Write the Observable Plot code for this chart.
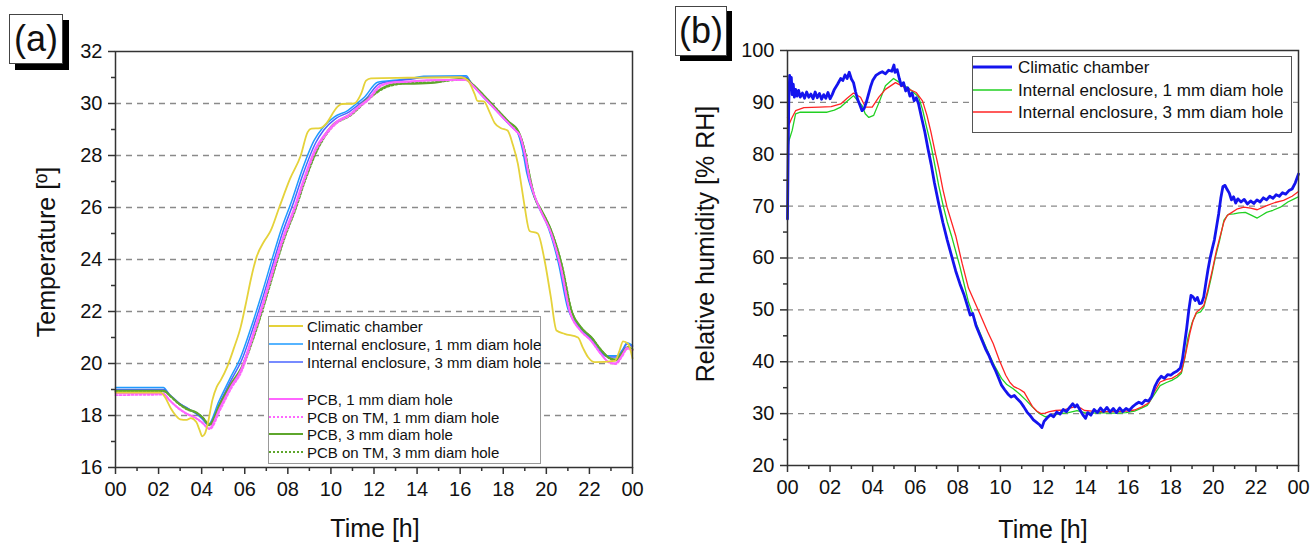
<!DOCTYPE html>
<html><head><meta charset="utf-8">
<script src="https://cdn.jsdelivr.net/npm/d3@7"></script>
<script src="https://cdn.jsdelivr.net/npm/@observablehq/plot@0.6"></script>
<style>
body{margin:0;background:#fff;font-family:"Liberation Sans",Arial,sans-serif;color:#111;}
#wrap{position:relative;width:1312px;height:543px;overflow:hidden;background:#fff;}
.panel{position:absolute;top:0;}
.tag{position:absolute;border:1px solid #444;background:#fff;font-size:36px;line-height:48px;text-align:center;box-sizing:border-box;}
.title{position:absolute;font-size:25px;line-height:1;white-space:nowrap;}
.legend{position:absolute;background:#fff;box-sizing:border-box;}
.row{position:absolute;white-space:nowrap;}
</style></head>
<body><div id="wrap"></div>
<script>
// ---------- Panel (a): temperature (hours, °C) ----------
const hourTicks = [0,2,4,6,8,10,12,14,16,18,20,22,24];
const hourMinor = [1,3,5,7,9,11,13,15,17,19,21,23];
const tempTicks = [16,18,20,22,24,26,28,30,32];
const tempMinor = [17,19,21,23,25,27,29,31];
const tempGrid = [18,20,22,24,26,28,30];

const chamberT = [[0,18.88],[2.1,18.88],[2.3,18.7],[2.55,18.3],[2.8,18.0],[3.0,17.85],[3.3,17.83],[3.5,17.9],[3.75,17.75],[3.9,17.45],[4.03,17.2],[4.15,17.3],[4.3,17.75],[4.5,18.6],[4.7,19.1],[4.88,19.35],[5.2,19.9],[5.5,20.6],[5.81,21.4],[6.05,22.3],[6.3,23.3],[6.55,24.1],[6.9,24.7],[7.2,25.1],[7.6,26.0],[8.1,27.1],[8.6,28.0],[8.92,28.9],[9.1,29.03],[9.5,29.05],[9.77,29.22],[10.3,29.87],[10.5,29.98],[11.08,30.0],[11.4,30.37],[11.63,30.88],[11.86,30.97],[13.57,30.99],[16.05,31.01],[16.36,30.88],[16.67,30.37],[16.8,30.1],[17.1,30.08],[17.35,29.7],[17.6,29.25],[17.9,29.05],[18.2,28.96],[18.45,28.4],[18.68,27.68],[18.85,26.8],[19.0,26.0],[19.22,25.1],[19.6,25.0],[19.92,23.96],[20.2,22.6],[20.47,21.27],[20.85,21.14],[21.47,21.0],[21.7,20.6],[21.94,20.24],[22.25,20.05],[23.18,20.1],[23.4,20.5],[23.56,20.85],[23.8,20.75],[24,20.2]];
const enc1T = [[0,19.08],[2.22,19.08],[2.5,18.8],[2.9,18.5],[3.3,18.3],[3.7,18.1],[4.0,17.9],[4.3,17.65],[4.8,18.55],[5.3,19.4],[5.81,20.24],[6.3,21.4],[6.8,22.7],[7.3,24.1],[7.67,25.1],[8.2,26.3],[8.6,27.3],[9.22,28.58],[9.6,29.05],[10.15,29.48],[10.78,29.73],[11.2,30.0],[11.55,30.24],[12.17,30.82],[12.8,30.88],[13.6,30.95],[14.3,31.05],[16.28,31.07],[16.5,30.8],[16.9,30.4],[17.3,30.05],[17.7,29.7],[18.1,29.35],[18.45,29.05],[18.65,28.9],[18.9,28.2],[19.1,27.3],[19.35,26.6],[19.65,26.0],[20.1,25.2],[20.55,23.9],[21.0,22.1],[21.45,21.45],[21.95,21.05],[22.4,20.55],[22.8,20.3],[23.3,20.3],[23.55,20.55],[23.75,20.8],[24,20.7]];
const enc3T = [[0,19.0],[2.25,19.0],[2.55,18.78],[2.95,18.48],[3.35,18.27],[3.75,18.07],[4.05,17.86],[4.33,17.62],[4.85,18.5],[5.35,19.33],[5.88,20.17],[6.37,21.33],[6.87,22.62],[7.37,24.0],[7.74,25.0],[8.27,26.2],[8.67,27.2],[9.3,28.5],[9.67,28.98],[10.22,29.42],[10.85,29.68],[11.27,29.95],[11.62,30.18],[12.25,30.76],[12.87,30.85],[13.6,30.92],[14.3,31.0],[16.25,31.02],[16.52,30.78],[16.95,30.38],[17.35,30.03],[17.75,29.68],[18.15,29.32],[18.5,29.02],[18.7,28.85],[18.95,28.15],[19.15,27.25],[19.4,26.55],[19.7,25.95],[20.15,25.15],[20.6,23.85],[21.05,22.05],[21.5,21.42],[22.0,21.02],[22.45,20.5],[22.85,20.25],[23.3,20.25],[23.55,20.5],[23.75,20.75],[24,20.65]];
const pcb1T = [[0,18.85],[2.22,18.85],[2.5,18.6],[2.9,18.3],[3.3,18.08],[3.7,17.92],[4.0,17.75],[4.35,17.5],[4.85,18.3],[5.35,19.1],[5.81,19.73],[6.35,21.05],[6.85,22.35],[7.35,23.75],[7.75,24.8],[8.3,26.0],[8.7,27.0],[9.3,28.3],[9.7,28.8],[10.25,29.3],[10.9,29.6],[11.3,29.9],[11.7,30.15],[12.3,30.7],[12.9,30.82],[13.6,30.85],[14.5,30.9],[16.25,30.92],[16.55,30.72],[17.0,30.32],[17.4,29.98],[17.8,29.62],[18.2,29.28],[18.55,28.98],[18.75,28.8],[19.0,28.05],[19.2,27.15],[19.45,26.45],[19.75,25.85],[20.2,25.05],[20.65,23.75],[21.1,21.95],[21.55,21.3],[22.05,20.9],[22.5,20.4],[22.9,20.05],[23.2,20.0],[23.5,20.3],[23.75,20.6],[24,20.5]];
const pcbTm1T = [[0,18.78],[2.22,18.8],[2.52,18.57],[2.92,18.27],[3.32,18.05],[3.72,17.9],[4.02,17.72],[4.38,17.48],[4.88,18.25],[5.38,19.05],[5.85,19.68],[6.38,21.0],[6.88,22.3],[7.38,23.7],[7.78,24.75],[8.33,25.95],[8.73,26.95],[9.33,28.25],[9.73,28.75],[10.28,29.25],[10.93,29.57],[11.33,29.87],[11.73,30.12],[12.33,30.67],[12.93,30.8],[13.6,30.83],[14.5,30.88],[16.25,30.9],[16.57,30.7],[17.02,30.3],[17.42,29.96],[17.82,29.6],[18.22,29.25],[18.57,28.95],[18.78,28.75],[19.03,28.0],[19.23,27.1],[19.48,26.4],[19.78,25.8],[20.23,25.0],[20.68,23.7],[21.13,21.9],[21.58,21.27],[22.08,20.87],[22.53,20.37],[22.93,20.03],[23.22,19.98],[23.52,20.27],[23.77,20.57],[24,20.47]];
const pcb3T = [[0,18.95],[2.25,18.95],[2.55,18.75],[2.95,18.45],[3.33,18.25],[3.75,18.12],[4.05,17.92],[4.35,17.65],[4.85,18.45],[5.35,19.2],[5.85,19.85],[6.4,21.05],[6.9,22.35],[7.4,23.75],[7.8,24.8],[8.35,26.0],[8.75,27.0],[9.35,28.25],[10.0,29.1],[10.93,29.6],[11.7,30.18],[12.48,30.63],[12.95,30.75],[13.7,30.76],[14.8,30.8],[15.5,30.9],[16.25,30.95],[16.6,30.72],[17.05,30.35],[17.45,30.0],[17.85,29.65],[18.25,29.3],[18.68,28.96],[18.99,28.19],[19.2,27.3],[19.46,26.4],[19.77,25.9],[20.23,25.1],[20.7,23.83],[21.16,22.04],[21.6,21.4],[22.1,21.0],[22.56,20.5],[23.0,20.18],[23.25,20.15],[23.5,20.4],[23.8,20.63],[24,20.55]];
const pcbTm3T = [[0,18.92],[2.25,18.92],[2.57,18.72],[2.97,18.42],[3.35,18.22],[3.77,18.1],[4.07,17.9],[4.37,17.62],[4.88,18.42],[5.38,19.17],[5.88,19.82],[6.43,21.02],[6.93,22.32],[7.43,23.72],[7.83,24.77],[8.38,25.97],[8.78,26.97],[9.38,28.22],[10.03,29.07],[10.96,29.57],[11.73,30.15],[12.5,30.6],[12.98,30.72],[13.7,30.8],[14.8,30.82],[15.5,30.88],[16.25,30.92],[16.62,30.7],[17.07,30.33],[17.47,29.98],[17.87,29.63],[18.27,29.28],[18.7,28.93],[19.01,28.15],[19.22,27.25],[19.48,26.35],[19.8,25.85],[20.26,25.05],[20.73,23.78],[21.19,22.0],[21.63,21.37],[22.13,20.97],[22.6,20.47],[23.03,20.15],[23.28,20.12],[23.52,20.37],[23.82,20.6],[24,20.52]];

const seriesA = [
  {name:"Climatic chamber", data:chamberT, color:"#e5d23a", width:1.8, dash:null},
  {name:"Internal enclosure, 1 mm diam hole", data:enc1T, color:"#1e9bff", width:1.5, dash:null},
  {name:"Internal enclosure, 3 mm diam hole", data:enc3T, color:"#4a64ff", width:1.5, dash:null},
  {name:"PCB, 1 mm diam hole", data:pcb1T, color:"#ff66ff", width:1.8, dash:null},
  {name:"PCB on TM, 1 mm diam hole", data:pcbTm1T, color:"#ff66ff", width:1.8, dash:"2,2"},
  {name:"PCB, 3 mm diam hole", data:pcb3T, color:"#5ea62c", width:2, dash:null},
  {name:"PCB on TM, 3 mm diam hole", data:pcbTm3T, color:"#5ea62c", width:1.8, dash:"2,2"}
];
const drawOrderA = [1,2,5,6,3,4,0];

// ---------- Panel (b): relative humidity ----------
const rhTicks = [20,30,40,50,60,70,80,90,100];
const rhMinor = [25,35,45,55,65,75,85,95];
const rhGrid = [30,40,50,60,70,80,90];

const chamberRH = [[0,67.5],[0.03,80],[0.06,90],[0.1,95.2],[0.14,93],[0.18,94.8],[0.22,91.5],[0.27,93.5],[0.32,91],[0.38,92.5],[0.45,91.2],[0.52,92.3],[0.6,91],[0.7,91.8],[0.8,90.8],[0.9,92],[1.0,91],[1.1,91.6],[1.2,90.7],[1.3,92],[1.4,90.9],[1.5,91.7],[1.6,90.6],[1.7,91.5],[1.8,90.8],[1.9,91.9],[2.0,90.7],[2.1,91.5],[2.2,92.5],[2.35,93.5],[2.5,94.6],[2.6,94.2],[2.7,95.3],[2.8,94.6],[2.9,95.8],[3.0,94.5],[3.1,93.8],[3.2,92],[3.3,90.5],[3.4,89.5],[3.5,88.4],[3.6,88.8],[3.7,90],[3.8,91.5],[3.9,93],[4.0,94.2],[4.15,95.2],[4.3,95.6],[4.45,95.9],[4.6,95.5],[4.75,96.2],[4.9,96],[5.0,97.2],[5.05,95.8],[5.15,96.3],[5.25,94.6],[5.35,93.2],[5.45,93.8],[5.55,92.2],[5.65,92.8],[5.75,91.2],[5.85,91.8],[5.95,90.3],[6.05,90.9],[6.15,89.8],[6.3,87],[6.45,84.3],[6.6,81],[6.75,78],[6.9,74.5],[7.1,70.5],[7.3,66.8],[7.5,63.5],[7.7,60.5],[7.9,57.5],[8.1,55],[8.3,52.8],[8.45,50.8],[8.58,49],[8.7,49.3],[8.85,47],[9.0,45.5],[9.15,44],[9.3,42.5],[9.45,41.3],[9.6,39.8],[9.75,38.5],[9.9,37],[10.05,35.5],[10.2,34.6],[10.35,33.8],[10.5,33.2],[10.65,33.5],[10.8,32.8],[10.95,32.2],[11.1,31.3],[11.25,30.3],[11.4,29.6],[11.55,28.8],[11.7,28.3],[11.85,27.8],[11.95,27.3],[12.05,28.5],[12.2,29.2],[12.35,29.8],[12.5,29.4],[12.65,30.3],[12.8,29.9],[12.95,30.8],[13.1,30.4],[13.25,31.2],[13.4,31.9],[13.5,31.3],[13.6,31.7],[13.75,30.6],[13.9,29.6],[14.0,29.1],[14.1,30.2],[14.25,29.7],[14.4,30.8],[14.55,30.2],[14.7,31.1],[14.85,30.4],[15.0,31.2],[15.15,30.3],[15.3,31.0],[15.45,30.2],[15.6,31.1],[15.75,30.4],[15.9,31.0],[16.05,30.6],[16.2,31.3],[16.35,31.8],[16.5,32.2],[16.65,31.9],[16.8,32.6],[16.95,32.4],[17.1,33.3],[17.25,35.2],[17.4,36.4],[17.55,37.2],[17.7,36.8],[17.85,37.5],[18.0,37.4],[18.15,37.9],[18.3,38.2],[18.45,38.8],[18.55,40.5],[18.65,43.5],[18.75,46.5],[18.85,50],[18.95,52.8],[19.05,52.5],[19.15,51.8],[19.25,52.4],[19.35,51.2],[19.45,51.3],[19.55,52.5],[19.65,55.2],[19.75,57.8],[19.85,60],[19.95,61.8],[20.05,63.5],[20.15,66],[20.25,68.5],[20.35,71.5],[20.45,73.8],[20.55,74],[20.65,73.2],[20.75,72.5],[20.85,71.2],[20.95,71.8],[21.05,70.6],[21.15,71.4],[21.3,70.8],[21.45,71.3],[21.6,70.4],[21.75,71],[21.9,70.5],[22.05,71.2],[22.2,70.8],[22.35,71.6],[22.5,71.2],[22.65,71.9],[22.8,71.5],[22.95,72.2],[23.1,71.9],[23.25,72.6],[23.4,72.3],[23.55,73],[23.7,73.3],[23.85,74.5],[24,76.2]];
const enc1RH = [[0,80],[0.06,82.5],[0.22,84.6],[0.38,87.8],[0.6,88.1],[1.24,88.1],[1.86,88.1],[2.2,88.5],[2.5,89.1],[2.8,90.2],[3.1,91.3],[3.3,90.3],[3.5,89.4],[3.65,87.8],[3.82,87.1],[4.05,87.5],[4.3,90],[4.6,93.2],[4.98,94.6],[5.27,93.8],[5.76,92.5],[6.15,91.1],[6.35,88.5],[6.54,85.1],[6.75,81.5],[6.93,77.7],[7.1,74],[7.3,70.3],[7.5,67],[7.7,64.3],[8.1,58.3],[8.5,51.5],[8.88,47.2],[9.2,44],[9.46,41.5],[9.75,39],[10.05,36.8],[10.3,35.6],[10.6,34.8],[10.9,33.8],[11.2,32.6],[11.5,31.3],[11.8,30.1],[12.1,29.4],[12.4,29.6],[12.8,30],[13.2,30.2],[13.6,30.6],[13.95,30.2],[14.3,30.1],[14.7,30.2],[15.1,30.1],[15.5,30.1],[15.9,30.2],[16.3,30.5],[16.6,31],[16.9,31.6],[17.2,33.5],[17.5,35.4],[17.8,36],[18.05,36.4],[18.3,37],[18.5,37.8],[18.65,40.5],[18.8,44.5],[19.0,47.5],[19.2,49.3],[19.4,49.6],[19.55,50.5],[19.75,53.5],[19.9,56.2],[20.1,60.2],[20.3,63.5],[20.5,67.3],[20.7,68.4],[20.96,68.5],[21.2,68.7],[21.5,68.8],[21.75,68.3],[22.06,67.7],[22.3,68.3],[22.5,68.8],[22.8,69.2],[23.15,69.8],[23.5,70.8],[23.8,71.4],[24,71.8]];
const enc3RH = [[0,87.1],[0.08,85.8],[0.18,86.8],[0.38,88.4],[0.77,89.0],[1.5,89.1],[2.05,89.2],[2.5,89.7],[2.8,90.8],[3.1,91.8],[3.43,91.0],[3.66,89.1],[3.98,89.1],[4.29,91.0],[4.6,92.5],[5.07,93.8],[5.56,92.8],[6.05,91.9],[6.34,90.3],[6.55,87.5],[6.73,84.4],[6.93,80.5],[7.12,77.0],[7.3,73.2],[7.5,69.7],[7.9,64.3],[8.2,59],[8.5,54.2],[8.8,51.4],[9.07,48.9],[9.4,45.8],[9.66,43.5],[9.95,40.3],[10.25,37.4],[10.45,36.0],[10.63,35.2],[10.9,34.7],[11.12,34.1],[11.3,32.8],[11.5,31.4],[11.7,30.5],[11.9,30.0],[12.1,30.1],[12.3,30.4],[12.6,30.6],[12.98,30.7],[13.3,31.1],[13.56,31.4],[13.8,31.0],[13.95,30.6],[14.3,30.5],[14.7,30.4],[15.1,30.4],[15.5,30.4],[15.9,30.5],[16.3,30.7],[16.65,31.3],[16.98,32.1],[17.2,34],[17.5,36.1],[17.8,36.6],[18.05,36.8],[18.3,37.4],[18.5,38.1],[18.7,41.5],[18.9,45.5],[19.05,48],[19.2,49.5],[19.4,50.2],[19.56,50.9],[19.75,54],[19.95,57.6],[20.15,61.5],[20.34,64.5],[20.5,67],[20.65,68.2],[20.8,68.6],[21.1,69.4],[21.43,69.8],[21.75,69.6],[22.06,69.3],[22.45,70.0],[22.9,70.7],[23.3,71.1],[23.7,71.9],[24,72.8]];

const seriesB = [
  {name:"Climatic chamber", data:chamberRH, color:"#1414ee", width:2.8},
  {name:"Internal enclosure, 1 mm diam hole", data:enc1RH, color:"#22d022", width:1.3},
  {name:"Internal enclosure, 3 mm diam hole", data:enc3RH, color:"#ff2424", width:1.3}
];

const hourFmt = d => String(d % 24).padStart(2, "0");
const axisStyle = {fontFamily:"'Liberation Sans', Arial, sans-serif", fontSize:"20px", color:"#111", background:"#fff", overflow:"visible"};

function lineMark(s, curve) {
  return Plot.line(s.data, {x:d=>d[0], y:d=>d[1], stroke:s.color, strokeWidth:s.width,
    strokeDasharray:s.dash || undefined, curve:curve});
}

const plotA = Plot.plot({
  width:660, height:543, marginLeft:115, marginRight:28, marginTop:51, marginBottom:76,
  style:axisStyle,
  x:{domain:[0,24]}, y:{domain:[16,32]},
  marks:[
    Plot.ruleY(tempGrid, {stroke:"#8a8a8a", strokeWidth:1.3, strokeDasharray:"6,5"}),
    ...drawOrderA.map(i => lineMark(seriesA[i], "monotone-x")),
    Plot.frame({stroke:"#333", strokeWidth:1.5}),
    Plot.axisX(hourTicks, {tickSize:7, tickPadding:7, tickFormat:hourFmt, label:null, stroke:"#333", strokeWidth:1.5}),
    Plot.axisX(hourMinor, {tickSize:4, tickFormat:()=>"", label:null, stroke:"#333", strokeWidth:1.5}),
    Plot.axisY(tempTicks, {tickSize:7, tickPadding:6, label:null, stroke:"#333", strokeWidth:1.5}),
    Plot.axisY(tempMinor, {tickSize:4, tickFormat:()=>"", label:null, stroke:"#333", strokeWidth:1.5})
  ]
});

const plotB = Plot.plot({
  width:652, height:543, marginLeft:127, marginRight:14, marginTop:50, marginBottom:78,
  style:axisStyle,
  x:{domain:[0,24]}, y:{domain:[20,100]},
  marks:[
    Plot.ruleY(rhGrid, {stroke:"#8a8a8a", strokeWidth:1.3, strokeDasharray:"6,5"}),
    ...[1,2,0].map(i => lineMark(seriesB[i], "linear")),
    Plot.frame({stroke:"#333", strokeWidth:1.5}),
    Plot.axisX(hourTicks, {tickSize:7, tickPadding:7, tickFormat:hourFmt, label:null, stroke:"#333", strokeWidth:1.5}),
    Plot.axisX(hourMinor, {tickSize:4, tickFormat:()=>"", label:null, stroke:"#333", strokeWidth:1.5}),
    Plot.axisY(rhTicks, {tickSize:7, tickPadding:6, label:null, stroke:"#333", strokeWidth:1.5}),
    Plot.axisY(rhMinor, {tickSize:4, tickFormat:()=>"", label:null, stroke:"#333", strokeWidth:1.5})
  ]
});

const wrap = document.getElementById("wrap");
function place(node, left) {
  const d = document.createElement("div");
  d.className = "panel"; d.style.left = left + "px";
  d.appendChild(node); wrap.appendChild(d);
}
place(plotA, 0);
place(plotB, 660);

function addDiv(cls, css, text) {
  const d = document.createElement("div");
  d.className = cls; d.style.cssText = css;
  if (text != null) d.textContent = text;
  wrap.appendChild(d); return d;
}
// panel tags
addDiv("tag", "left:9px;top:14px;width:54px;height:50px;box-shadow:6px 6px 0 #000;", "(a)");
addDiv("tag", "left:675px;top:6px;width:52px;height:50px;box-shadow:5px 5px 0 #000;", "(b)");
// axis titles
addDiv("title", "left:46px;top:252px;transform:translate(-50%,-50%) rotate(-90deg);", "Temperature [º]");
addDiv("title", "left:375px;top:528px;transform:translate(-50%,-50%);", "Time [h]");
addDiv("title", "left:705px;top:244px;transform:translate(-50%,-50%) rotate(-90deg);", "Relative humidity [% RH]");
addDiv("title", "left:1043px;top:529px;transform:translate(-50%,-50%);", "Time [h]");

// legends
function legend(box, rows, opts) {
  addDiv("legend", `left:${box[0]}px;top:${box[1]}px;width:${box[2]}px;height:${box[3]}px;border:1px solid ${opts.border};`);
  rows.forEach(r => {
    const s = r.s;
    const svgNS = "http://www.w3.org/2000/svg";
    const svg = document.createElementNS(svgNS, "svg");
    svg.setAttribute("width", opts.lineW); svg.setAttribute("height", 8);
    svg.style.cssText = `position:absolute;left:${opts.lineX}px;top:${r.y-4}px;overflow:visible;`;
    const ln = document.createElementNS(svgNS, "line");
    ln.setAttribute("x1", 0); ln.setAttribute("x2", opts.lineW);
    ln.setAttribute("y1", 4); ln.setAttribute("y2", 4);
    ln.setAttribute("stroke", s.color);
    ln.setAttribute("stroke-width", opts.lw ? opts.lw(s) : s.width);
    if (s.dash) ln.setAttribute("stroke-dasharray", s.dash);
    svg.appendChild(ln); wrap.appendChild(svg);
    addDiv("row", `left:${opts.textX}px;top:${r.y}px;font-size:${opts.fs}px;transform:translateY(-50%);line-height:1;`, s.name);
  });
}
legend([268,316,273,148], [
  {s:seriesA[0], y:326},{s:seriesA[1], y:344},{s:seriesA[2], y:362},
  {s:seriesA[3], y:399},{s:seriesA[4], y:417},{s:seriesA[5], y:434},{s:seriesA[6], y:452}
], {border:"#999", lineX:269, lineW:34, textX:307, fs:15, lw:s=>s.width});
legend([972,56,320,77], [
  {s:seriesB[0], y:67},{s:seriesB[1], y:89.5},{s:seriesB[2], y:112}
], {border:"#555", lineX:973, lineW:39, textX:1018, fs:17, lw:s=>s.width>2?3:1.5});
</script>
</body></html>
